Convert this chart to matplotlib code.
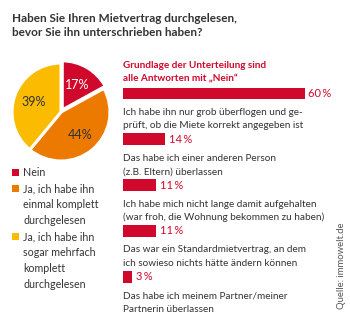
import matplotlib.pyplot as plt

plt.rcParams['font.family'] = ['Lato', 'DejaVu Sans']

# data
pie_labels = ["Nein",
              ["Ja, ich habe ihn", "einmal komplett", "durchgelesen"],
              ["Ja, ich habe ihn", "sogar mehrfach", "komplett", "durchgelesen"]]
pie_values = [17, 44, 39]
pie_colors = ["#d0082c", "#ec7a00", "#fbbb00"]

bar_values = [60, 14, 11, 11, 3]
bar_texts = [
    ["Ich habe ihn nur grob überflogen und ge-", "prüft, ob die Miete korrekt angegeben ist"],
    ["Das habe ich einer anderen Person", "(z.B. Eltern) überlassen"],
    ["Ich habe mich nicht lange damit aufgehalten", "(war froh, die Wohnung bekommen zu haben)"],
    ["Das war ein Standardmietvertrag, an dem", "ich sowieso nichts hätte ändern können"],
    ["Das habe ich meinem Partner/meiner", "Partnerin überlassen"],
]

title = ["Haben Sie Ihren Mietvertrag durchgelesen,", "bevor Sie ihn unterschrieben haben?"]
subtitle = ["Grundlage der Unterteilung sind", "alle Antworten mit \u201eNein\u201c"]
source = "Quelle: immowelt.de"

W, H = 350, 325
dark = "#333333"
red = pie_colors[0]

fig = plt.figure(figsize=(W / 100, H / 100), dpi=100)

# overlay in pixel coords for free text
base = fig.add_axes([0, 0, 1, 1])
base.set_xlim(0, W)
base.set_ylim(H, 0)
base.axis('off')

for i, line in enumerate(title):
    base.text(12, 19 + 14 * i, line, fontsize=8.5, fontweight='bold', color=dark, va='center')
for i, line in enumerate(subtitle):
    base.text(123, 65 + 14 * i, line, fontsize=7.2, fontweight='bold', color=red, va='center')
base.text(341, 266, source, fontsize=6.8, color="#555555", rotation=90, ha='center', va='center')

# legend
row = 0
for lab, col in zip(pie_labels, pie_colors):
    lines = [lab] if isinstance(lab, str) else lab
    y0 = 173 + 16 * row
    base.add_patch(plt.Rectangle((12, y0 - 4), 7, 7, color=col, lw=0))
    for line in lines:
        base.text(23, 173 + 16 * row, line, fontsize=7.7, color=dark, va='center')
        row += 1

# pie
cx, cy, r = 61, 112, 50
pax = fig.add_axes([(cx - r) / W, 1 - (cy + r) / H, 2 * r / W, 2 * r / H])
wedges, texts, autotexts = pax.pie(
    pie_values, colors=pie_colors, startangle=90, counterclock=False,
    explode=[0.05, 0, 0], radius=0.98, autopct='%d%%', pctdistance=0.6,
    wedgeprops=dict(edgecolor='white', linewidth=2.2),
    textprops=dict(fontsize=9, color=dark))
autotexts[0].set_color('white')
pax.set_xlim(-1, 1)
pax.set_ylim(-1, 1)
pax.set_aspect('equal')

# bars
x0, x1 = 123, 305
top, step = 93.5, 45.8
bax = fig.add_axes([x0 / W, 1 - (top + 4.5 * step) / H, (x1 - x0) / W, 5 * step / H])
ypos = list(range(len(bar_values)))
bax.barh(ypos, bar_values, height=0.26, color=red)
bax.set_xlim(0, max(bar_values))
bax.set_ylim(4.5, -0.5)
bax.axis('off')
for y, v, lines in zip(ypos, bar_values, bar_texts):
    bax.annotate(f"{v}\u2009%", (v, y), xytext=(2.5, 0), textcoords='offset points',
                 fontsize=8, color=red, va='center', ha='left', annotation_clip=False)
    for k, line in enumerate(lines):
        bax.annotate(line, (0, y), xytext=(0, -(19 + 13.5 * k) * 0.72), textcoords='offset points',
                     fontsize=7.2, color=dark, va='center', ha='left', annotation_clip=False)

fig.savefig("out.png", dpi=100)
